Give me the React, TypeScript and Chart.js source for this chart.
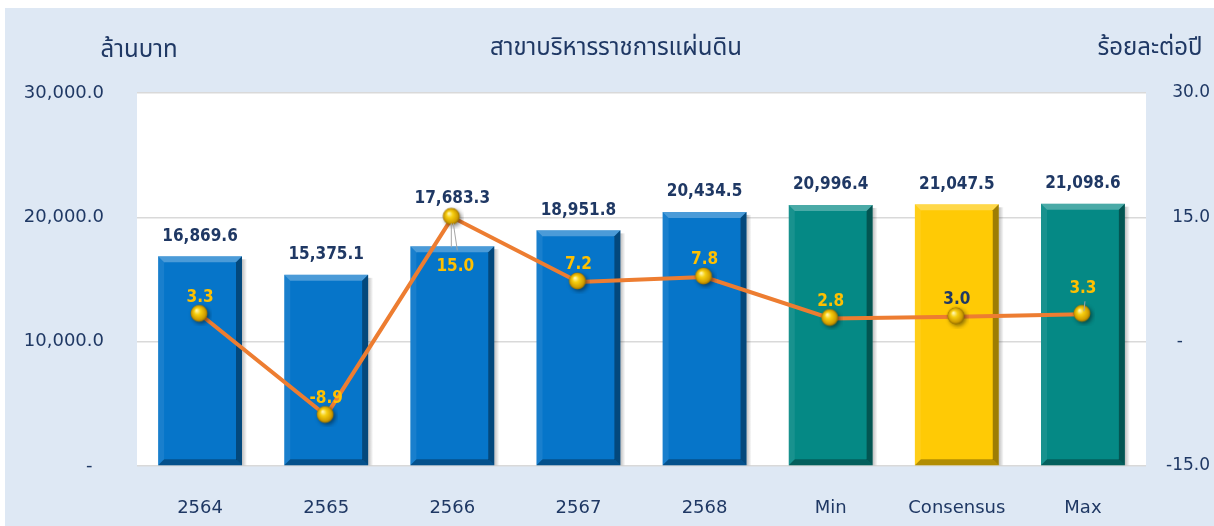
import React, { useEffect, useRef } from "react";
import { Chart, registerables } from "chart.js";

Chart.register(...registerables);

// ---- data ----
const categories = ["2564", "2565", "2566", "2567", "2568", "Min", "Consensus", "Max"];
const amounts = [16869.6, 15375.1, 17683.3, 18951.8, 20434.5, 20996.4, 21047.5, 21098.6];
const growth = [3.3, -8.9, 15.0, 7.2, 7.8, 2.8, 3.0, 3.3];
const leftTicks = [0, 10000, 20000, 30000];
const rightTicks = [-15, 0, 15, 30];
const leftTitle = "ล้านบาท";
const centerTitle = "สาขาบริหารราชการแผ่นดิน";
const rightTitle = "ร้อยละต่อปี";

// ---- styles ----
const BLUE = "#0675C9";
const TEAL = "#058985";
const GOLD = "#FFCA05";
const barColors = [BLUE, BLUE, BLUE, BLUE, BLUE, TEAL, GOLD, TEAL];
const growthLabelColors = ["#FFC000", "#FFC000", "#FFC000", "#FFC000", "#FFC000", "#FFC000", "#1F3864", "#FFC000"];
const growthLabelPlacement = ["above", "above", "below", "above", "above", "above", "above", "raised"];
const NAVY = "#1F3864";
const BG = "#DEE8F4";
const TICK_FONT = "'DejaVu Sans', 'Noto Sans', sans-serif";
const LABEL_FONT = "'DejaVu Sans Condensed', 'DejaVu Sans', sans-serif";
const THAI_FONT = "'Noto Sans Thai', Tahoma, 'Leelawadee UI', 'DejaVu Sans', sans-serif";

function fmt1(v: number) {
  return v.toLocaleString("en-US", { minimumFractionDigits: 1, maximumFractionDigits: 1 });
}

function makeSphere(): HTMLCanvasElement {
  const c = document.createElement("canvas");
  c.width = 24;
  c.height = 24;
  const ctx = c.getContext("2d")!;
  const cx = 11, cy = 11, r = 8.5;
  ctx.save();
  ctx.shadowColor = "rgba(0,0,0,0.45)";
  ctx.shadowBlur = 4;
  ctx.shadowOffsetX = 2;
  ctx.shadowOffsetY = 2;
  const g = ctx.createRadialGradient(cx - 2.5, cy - 3, 0.5, cx, cy, r);
  g.addColorStop(0, "#FFF6B0");
  g.addColorStop(0.35, "#F7CF10");
  g.addColorStop(0.8, "#D19E00");
  g.addColorStop(1, "#8F6A00");
  ctx.fillStyle = g;
  ctx.beginPath();
  ctx.arc(cx, cy, r, 0, Math.PI * 2);
  ctx.fill();
  ctx.restore();
  return c;
}

const plotBgPlugin = {
  id: "plotBg",
  beforeDraw(chart: any) {
    const { ctx, chartArea } = chart;
    ctx.save();
    ctx.fillStyle = "#FFFFFF";
    ctx.fillRect(chartArea.left, chartArea.top, chartArea.right - chartArea.left, chartArea.bottom - chartArea.top);
    ctx.restore();
  },
};

const bevelPlugin = {
  id: "bevel",
  afterDatasetDraw(chart: any, args: any) {
    if (args.index !== 0) return;
    const ctx = chart.ctx;
    const meta = chart.getDatasetMeta(0);
    meta.data.forEach((el: any) => {
      const { x, y, base, width } = el.getProps(["x", "y", "base", "width"], true);
      const l = x - width / 2, r = x + width / 2, t = y, b = base;
      const bv = 6;
      const poly = (pts: number[][], fill: string) => {
        ctx.beginPath();
        ctx.moveTo(pts[0][0], pts[0][1]);
        for (let i = 1; i < pts.length; i++) ctx.lineTo(pts[i][0], pts[i][1]);
        ctx.closePath();
        ctx.fillStyle = fill;
        ctx.fill();
      };
      ctx.save();
      const sg = ctx.createLinearGradient(r, 0, r + 5, 0);
      sg.addColorStop(0, "rgba(0,0,0,0.25)");
      sg.addColorStop(1, "rgba(0,0,0,0)");
      ctx.fillStyle = sg;
      ctx.fillRect(r, t + 3, 5, b - t - 3);
      poly([[l, t], [r, t], [r - bv, t + bv], [l + bv, t + bv]], "rgba(255,255,255,0.28)");
      poly([[l, t], [l + bv, t + bv], [l + bv, b - bv], [l, b]], "rgba(255,255,255,0.08)");
      poly([[r, t], [r, b], [r - bv, b - bv], [r - bv, t + bv]], "rgba(0,0,0,0.38)");
      poly([[l, b], [r, b], [r - bv, b - bv], [l + bv, b - bv]], "rgba(0,0,0,0.3)");
      ctx.restore();
    });
  },
};

const labelsPlugin = {
  id: "valueLabels",
  afterDatasetsDraw(chart: any) {
    const ctx = chart.ctx;
    const bars = chart.getDatasetMeta(0).data;
    const pts = chart.getDatasetMeta(1).data;
    ctx.save();
    ctx.textAlign = "center";
    ctx.textBaseline = "middle";
    ctx.strokeStyle = "#A6A6A6";
    ctx.lineWidth = 1;
    pts.forEach((p: any, i: number) => {
      const pl = growthLabelPlacement[i];
      if (pl === "below") {
        ctx.beginPath();
        ctx.moveTo(p.x - 1, p.y + 6);
        ctx.lineTo(p.x - 1, p.y + 30);
        ctx.moveTo(p.x + 1, p.y + 6);
        ctx.lineTo(p.x + 5, p.y + 33);
        ctx.stroke();
      } else if (pl === "raised") {
        ctx.beginPath();
        ctx.moveTo(p.x + 1, p.y - 3);
        ctx.lineTo(p.x + 2, p.y - 13);
        ctx.stroke();
      }
    });
    ctx.font = `bold 17px ${LABEL_FONT}`;
    ctx.fillStyle = NAVY;
    bars.forEach((b: any, i: number) => {
      const p = pts[i];
      const y = Math.min(b.y - 20, p.y - 19);
      ctx.fillText(fmt1(amounts[i]), b.x, y);
    });
    pts.forEach((p: any, i: number) => {
      const pl = growthLabelPlacement[i];
      let x = p.x, y = p.y - 17;
      if (pl === "below") { x = p.x + 3; y = p.y + 49; }
      if (pl === "raised") { y = p.y - 26; }
      ctx.fillStyle = growthLabelColors[i];
      ctx.fillText(fmt1(growth[i]), x, y);
    });
    ctx.restore();
  },
};

const titlesPlugin = {
  id: "titles",
  afterDraw(chart: any) {
    const ctx = chart.ctx;
    ctx.save();
    ctx.fillStyle = NAVY;
    ctx.textBaseline = "alphabetic";
    ctx.font = `24px ${THAI_FONT}`;
    ctx.textAlign = "center";
    ctx.fillText(leftTitle, 134, 49);
    ctx.fillText(centerTitle, 611, 47);
    ctx.fillText(rightTitle, 1145, 47);
    ctx.restore();
  },
};

export default function App() {
  const ref = useRef<HTMLCanvasElement | null>(null);
  useEffect(() => {
    if (!ref.current) return;
    const sphere = makeSphere();
    const chart = new Chart(ref.current, {
      data: {
        labels: categories,
        datasets: [
          {
            type: "bar",
            data: amounts,
            backgroundColor: barColors,
            borderWidth: 0,
            yAxisID: "y",
            order: 1,
            barPercentage: 0.665,
            categoryPercentage: 1,
          },
          {
            type: "line",
            data: growth,
            yAxisID: "y1",
            borderColor: "#ED7D31",
            borderWidth: 4,
            pointStyle: sphere as any,
            pointRadius: 9,
            order: 0,
            tension: 0,
          },
        ],
      } as any,
      options: {
        animation: false,
        responsive: false,
        layout: { padding: { top: 85, left: 0, right: 4, bottom: 0 } },
        plugins: { legend: { display: false }, tooltip: { enabled: false } },
        scales: {
          x: {
            grid: { display: false },
            border: { display: false },
            ticks: { color: NAVY, font: { family: TICK_FONT, size: 18 }, padding: 24, maxRotation: 0 },
            afterFit: (s: any) => { s.height = 60; },
          },
          y: {
            position: "left",
            min: 0,
            max: 30000,
            afterBuildTicks: (s: any) => { s.ticks = leftTicks.map((v) => ({ value: v })); },
            grid: { color: "#D9D9D9", lineWidth: 1.5, drawTicks: false },
            border: { display: false },
            ticks: {
              color: NAVY,
              font: { family: TICK_FONT, size: 18 },
              padding: 33,
              callback: (v: any) => (v === 0 ? "-  " : fmt1(Number(v))),
            },
            afterFit: (s: any) => { s.width = 132; },
          },
          y1: {
            position: "right",
            min: -15,
            max: 30,
            afterBuildTicks: (s: any) => { s.ticks = rightTicks.map((v) => ({ value: v })); },
            grid: { display: false, drawTicks: false },
            border: { display: false },
            ticks: {
              color: NAVY,
              font: { family: TICK_FONT, size: 17 },
              padding: 14,
              crossAlign: "far",
              callback: (v: any) => (v === 0 ? "-     " : fmt1(Number(v))),
            },
            afterFit: (s: any) => { s.width = 64; },
          },
        },
      } as any,
      plugins: [plotBgPlugin, bevelPlugin, labelsPlugin, titlesPlugin],
    });
    return () => chart.destroy();
  }, []);

  return (
    <div style={{ position: "absolute", left: 5, top: 8, width: 1209, height: 518, background: BG }}>
      <canvas ref={ref} width={1209} height={518} style={{ display: "block" }} />
    </div>
  );
}
